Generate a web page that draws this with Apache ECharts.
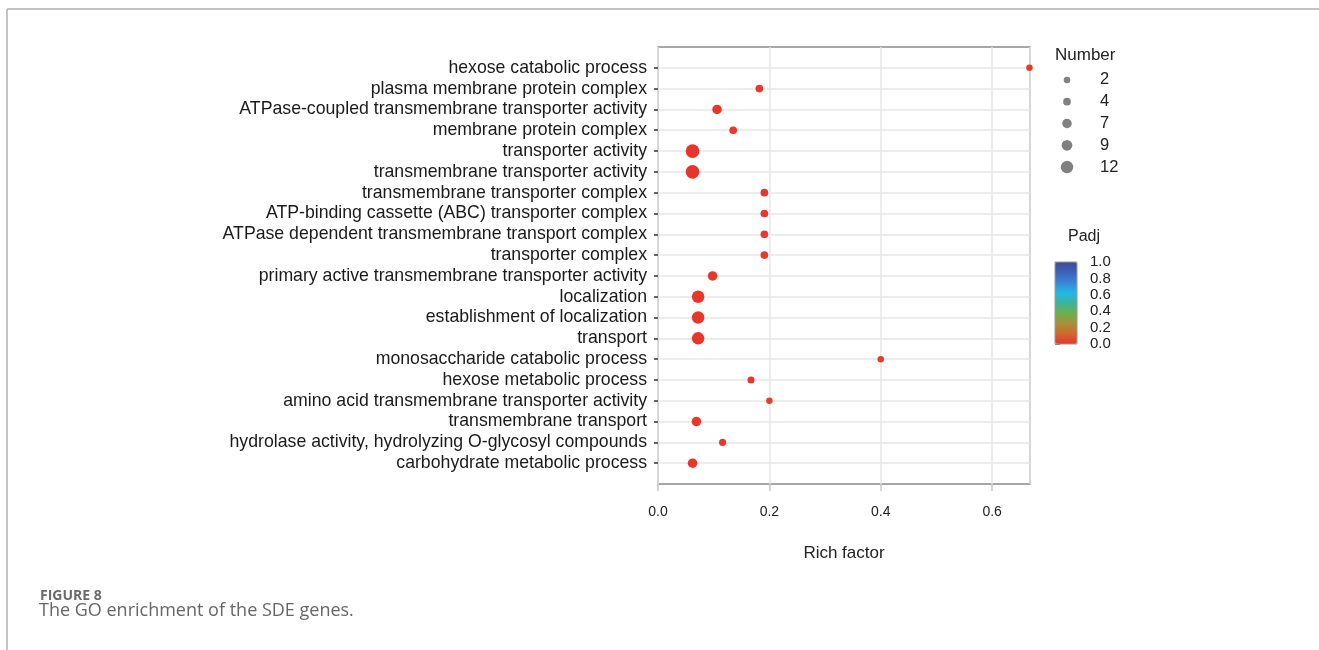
<!DOCTYPE html>
<html>
<head>
<meta charset="utf-8">
<script src="https://cdn.jsdelivr.net/npm/echarts@6/dist/echarts.min.js"></script>
<style>html,body{margin:0;padding:0;background:#fff;}#chart{width:1319px;height:650px;}</style>
</head>
<body>
<div id="chart"></div>
<script>
// GO terms, top to bottom
const terms = [
  'hexose catabolic process',
  'plasma membrane protein complex',
  'ATPase-coupled transmembrane transporter activity',
  'membrane protein complex',
  'transporter activity',
  'transmembrane transporter activity',
  'transmembrane transporter complex',
  'ATP-binding cassette (ABC) transporter complex',
  'ATPase dependent transmembrane transport complex',
  'transporter complex',
  'primary active transmembrane transporter activity',
  'localization',
  'establishment of localization',
  'transport',
  'monosaccharide catabolic process',
  'hexose metabolic process',
  'amino acid transmembrane transporter activity',
  'transmembrane transport',
  'hydrolase activity, hydrolyzing O-glycosyl compounds',
  'carbohydrate metabolic process'
];
const richFactor = [0.667, 0.182, 0.106, 0.135, 0.062, 0.062, 0.191, 0.191, 0.191, 0.191,
                    0.098, 0.072, 0.072, 0.072, 0.400, 0.167, 0.200, 0.069, 0.116, 0.062];
const geneNumber = [2, 4, 7, 4, 14, 14, 4, 4, 4, 4, 7, 12, 12, 12, 2, 3, 2, 7, 3, 7];
const padj = [0.02, 0.01, 0.005, 0.01, 0.001, 0.001, 0.01, 0.01, 0.01, 0.01,
              0.005, 0.002, 0.002, 0.002, 0.02, 0.01, 0.02, 0.005, 0.01, 0.005];
const xTicks = [0, 0.2, 0.4, 0.6];
const numberLegend = [2, 4, 7, 9, 12];
const padjTicks = [0.0, 0.2, 0.4, 0.6, 0.8, 1.0];

const sizeOf = n => 6.5 + 0.6 * (n - 2);
const yCats = [''].concat(terms, ['']);
const mainData = terms.map((t, i) => [richFactor[i], t, geneNumber[i], padj[i]]);
const legendData = numberLegend.map(n => [0.5, String(n), n]);
const FONT = '"Liberation Sans", Arial, sans-serif';

const chart = echarts.init(document.getElementById('chart'));
chart.setOption({
  animation: false,
  backgroundColor: '#fff',
  title: [
    { text: 'Number', left: 1055, top: 47, padding: 0,
      textStyle: { fontFamily: FONT, fontSize: 17, fontWeight: 'normal', color: '#222' } },
    { text: 'Padj', left: 1068, top: 229, padding: 0,
      textStyle: { fontFamily: FONT, fontSize: 16, fontWeight: 'normal', color: '#222' } },
    { text: 'FIGURE 8', left: 40, top: 589, padding: 0,
      textStyle: { fontFamily: '"Open Sans", sans-serif', fontSize: 14, fontWeight: 'bold', color: '#6b6b6b' } },
    { text: 'The GO enrichment of the SDE genes.', left: 39, top: 602, padding: 0,
      textStyle: { fontFamily: '"Open Sans", sans-serif', fontSize: 18, fontWeight: 'normal', color: '#666' } }
  ],
  graphic: [
    { type: 'line', shape: { x1: 7, y1: 9, x2: 1319, y2: 9 }, style: { stroke: '#b0b0b0', lineWidth: 1.5 } },
    { type: 'line', shape: { x1: 7, y1: 9, x2: 7, y2: 650 }, style: { stroke: '#b0b0b0', lineWidth: 1.5 } }
  ],
  grid: [
    { left: 658, right: 289, top: 47, bottom: 166, show: true, borderColor: '#8a8a8a', borderWidth: 1.5, backgroundColor: 'transparent' },
    { left: 1052, width: 30, top: 69, height: 109 },
    { left: 1055, width: 22, top: 262, height: 82, show: true, borderColor: '#999', borderWidth: 1, backgroundColor: 'transparent', z: 10 }
  ],
  xAxis: [
    { gridIndex: 0, type: 'value', min: 0, max: 0.668, interval: 0.2,
      name: 'Rich factor', nameLocation: 'middle', nameGap: 61,
      nameTextStyle: { fontFamily: FONT, fontSize: 17, color: '#222' },
      axisLine: { show: false },
      axisTick: { show: true, length: 7, lineStyle: { color: '#c8c8c8', width: 1.5 } },
      axisLabel: { margin: 21, fontFamily: FONT, fontSize: 14, color: '#222', showMaxLabel: false,
        formatter: v => xTicks.indexOf(Math.round(v * 10) / 10) >= 0 ? v.toFixed(1) : '' },
      splitLine: { show: true, lineStyle: { color: '#e6e6e6', width: 1.5 } } },
    { gridIndex: 1, type: 'value', min: 0, max: 1, show: false },
    { gridIndex: 2, type: 'value', min: 0, max: 1, show: false }
  ],
  yAxis: [
    { gridIndex: 0, type: 'category', data: yCats, inverse: true, boundaryGap: false,
      axisLine: { show: false },
      axisTick: { show: true, length: 4, interval: (i, v) => v !== '', lineStyle: { color: '#333', width: 1.5 } },
      axisLabel: { interval: 0, margin: 11, fontFamily: FONT, fontSize: 17.7, color: '#1a1a1a' },
      splitLine: { show: true, interval: (i, v) => v !== '', lineStyle: { color: '#e6e6e6', width: 1.5 } } },
    { gridIndex: 1, type: 'category', data: numberLegend.map(String), inverse: true, position: 'right',
      axisLine: { show: false }, axisTick: { show: false },
      axisLabel: { interval: 0, margin: 18, fontFamily: FONT, fontSize: 16.5, color: '#222' },
      splitLine: { show: false } },
    { gridIndex: 2, type: 'value', min: 0, max: 1, interval: 0.2, position: 'right',
      axisLine: { show: false },
      axisTick: { show: true, length: 5, lineStyle: { color: '#777' } },
      axisLabel: { margin: 13, fontFamily: FONT, fontSize: 15, color: '#222', formatter: v => v.toFixed(1) },
      splitLine: { show: false } }
  ],
  visualMap: [{
    type: 'continuous', seriesIndex: 0, dimension: 3, min: 0, max: 1,
    left: 1055, top: 262, itemWidth: 22, itemHeight: 82, padding: 0,
    calculable: false, text: null, showLabel: false, hoverLink: false,
    inRange: { color: ['#e8352b', '#d0682c', '#a8903a', '#6cb04a', '#3cb59a', '#22b8e6', '#3a86d6', '#3e62b8', '#3f4a9a'] },
    textStyle: { color: 'transparent' }
  }],
  series: [
    { type: 'scatter', xAxisIndex: 0, yAxisIndex: 0, data: mainData,
      encode: { x: 0, y: 1 }, symbolSize: d => sizeOf(d[2]), itemStyle: { opacity: 1 } },
    { type: 'scatter', xAxisIndex: 1, yAxisIndex: 1, data: legendData,
      encode: { x: 0, y: 1 }, symbolSize: d => sizeOf(d[2]), itemStyle: { color: '#808080', opacity: 1 } },
    { type: 'scatter', xAxisIndex: 2, yAxisIndex: 2, data: [] }
  ]
});
</script>
</body>
</html>
